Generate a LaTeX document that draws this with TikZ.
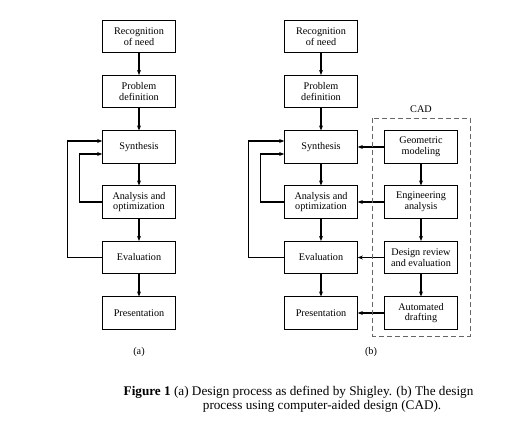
\documentclass[tikz,border=0pt]{standalone}
\usepackage{fontspec}
\setmainfont{Liberation Serif}
\usetikzlibrary{arrows.meta}
\begin{document}
\begin{tikzpicture}[x=1pt,y=-1pt,
  box/.style={draw,line width=0.7pt,minimum width=73pt,minimum height=32.5pt,inner sep=1pt,align=center,font=\fontsize{10.2}{10.6}\selectfont},
  conn/.style={line width=1.1pt,-{Stealth[length=5pt,width=4pt]}},
  lbl/.style={font=\fontsize{10.2}{11}\selectfont},
  figcap/.style={font=\fontsize{13.2}{14}\selectfont,anchor=west,inner sep=0pt}]
\useasboundingbox (0,0) rectangle (532,422);
\foreach \n/\y/\t in {r/36.5/{Recognition\\of need},p/91.5/{Problem\\definition},s/147/Synthesis,a/202/{Analysis and\\optimization},e/257.5/Evaluation,q/313/Presentation}{
  \node[box] (a\n) at (139,\y) {\t};
  \node[box] (b\n) at (321,\y) {\t};
}
\node[box] (cg) at (421,147) {Geometric\\modeling};
\node[box] (ce) at (421,202) {Engineering\\analysis};
\node[box] (cd) at (421,257.5) {Design review\\and evaluation};
\node[box] (ca) at (421,313) {Automated\\drafting};
\foreach \c in {a,b}{
  \draw[conn] (\c r) -- (\c p);
  \draw[conn] (\c p) -- (\c s);
  \draw[conn] (\c s) -- (\c a);
  \draw[conn] (\c a) -- (\c e);
  \draw[conn] (\c e) -- (\c q);
}
\draw[conn] (ae.west) -- ++(-35,0) |- ([yshift=6pt]as.west);
\draw[conn] (aa.west) -- ++(-23,0) |- ([yshift=-7pt]as.west);
\draw[conn] (be.west) -- ++(-35.7,0) |- ([yshift=6pt]bs.west);
\draw[conn] (ba.west) -- ++(-23.3,0) |- ([yshift=-7pt]bs.west);
\draw[conn] (cg) -- (ce);
\draw[conn] (ce) -- (cd);
\draw[conn] (cd) -- (ca);
\draw[conn] (cg) -- (bs);
\draw[conn] (ce) -- (ba);
\draw[conn] (cd) -- (be);
\draw[conn] (ca) -- (bq);
\coordinate (d1) at (372.7,118.3);
\coordinate (d2) at (470,336);
\draw[line width=0.7pt,gray!80!black,dash pattern=on 5pt off 3pt] (d1) rectangle (d2);
\node[lbl] (cadl) at (421,109) {CAD};
\node[lbl] (la) at (139,352) {(a)};
\node[lbl] (lb) at (371,352) {(b)};
\node[figcap] (c1) at (123.5,392.5) {\textbf{Figure 1} (a) Design process as defined by Shigley. (b) The design};
\node[figcap] (c2) at (202.7,406.7) {process using computer-aided design (CAD).};
\end{tikzpicture}
\end{document}
